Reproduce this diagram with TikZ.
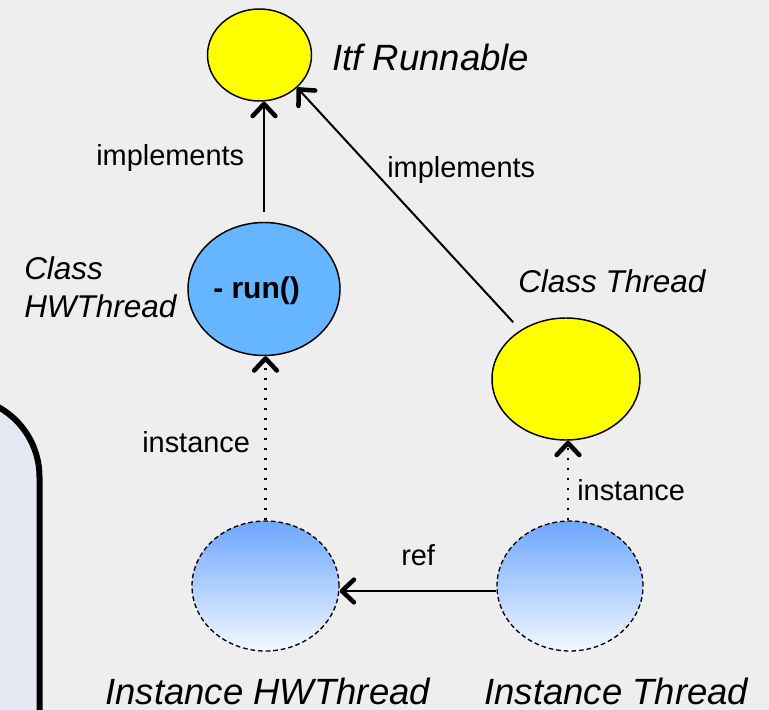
\documentclass[tikz,border=0pt]{standalone}
\usepackage{fontspec}
\setmainfont{Liberation Sans}
\usetikzlibrary{arrows.meta,shapes.geometric}
\definecolor{bg}{RGB}{238,238,238}
\definecolor{boxfill}{RGB}{228,232,242}
\definecolor{classblue}{RGB}{102,181,255}
\definecolor{pureyellow}{RGB}{255,255,0}
\definecolor{gradtop}{RGB}{108,166,255}
\definecolor{gradbot}{RGB}{244,248,255}
\begin{document}
\begin{tikzpicture}[x=0.75pt,y=-0.75pt,
  yel/.style={ellipse, draw=black, line width=1.1pt, fill=pureyellow, inner sep=0pt},
  blu/.style={ellipse, draw=black, line width=1.1pt, fill=classblue, inner sep=0pt},
  inst/.style={ellipse, draw=black, line width=1pt, dash pattern=on 3.5pt off 2.2pt, top color=gradtop, bottom color=gradbot, inner sep=0pt},
  bigital/.style={inner sep=0pt, anchor=base west, font=\fontsize{27.4pt}{32pt}\selectfont\itshape},
  midital/.style={inner sep=0pt, anchor=base west, font=\fontsize{23.6pt}{28pt}\selectfont\itshape},
  lbl/.style={inner sep=0pt, anchor=base west, font=\fontsize{21.7pt}{26pt}\selectfont},
  barbtip/.style={-{Straight Barb[length=9pt, width=17pt, line width=3.4pt, round]}},
  conn/.style={line width=1.5pt, barbtip},
  dotline/.style={line width=1.6pt, dash pattern=on 1.6pt off 5.9pt, barbtip}
]
\useasboundingbox (0,0) rectangle (769,710);
\fill[bg] (0,0) rectangle (769,710);
\begin{scope}
  \clip (0,0) rectangle (769,710);
  \draw[line width=4.5pt, fill=boxfill, rounded corners=60pt] (-200,397) rectangle (39.5,900);
\end{scope}

% ellipses
\node[yel, minimum width=78pt, minimum height=69pt] (itf) at (259.5,55) {};
\node[blu, minimum width=114pt, minimum height=99.75pt] (hw) at (264,289) {};
\node[yel, minimum width=111pt, minimum height=91.5pt] (ct) at (566,379) {};
\node[inst, minimum width=110.25pt, minimum height=97.5pt] (ihw) at (265.5,586) {};
\node[inst, minimum width=109.5pt, minimum height=97.5pt] (it) at (570,586) {};

% labels
\node[bigital] (litf) at (332,71) {Itf Runnable};
\node[midital] (lhw1) at (24,279) {Class};
\node[midital] (lhw2) at (24,317) {HWThread};
\node[midital] (lct) at (518,292) {Class Thread};
\node[bigital] (lihw) at (105,704) {Instance HWThread};
\node[bigital] (lit) at (484,704) {Instance Thread};
\node[inner sep=0pt, anchor=base west, font=\fontsize{22.5pt}{26pt}\selectfont\bfseries] (run) at (213,299) {- run()};
\node[lbl] (imp1) at (96,166) {implements};
\node[lbl] (imp2) at (387,178) {implements};
\node[lbl] (ins1) at (142,452) {instance};
\node[lbl] (ins2) at (577,500) {instance};
\node[lbl] (ref) at (401,565) {ref};

% connectors
\draw[conn, shorten <=7.5pt] (hw.north) -- (hw.north |- itf.south);
\draw[conn, shorten <=8pt] (ct.133) -- (itf.-41);
\draw[dotline] (ihw.north) -- (ihw.north |- hw.south);
\draw[dotline] ([xshift=-1.5pt]it.north) -- ([xshift=-1.5pt]it.north |- ct.south);
\draw[conn] ([yshift=-3.75pt]it.west) -- ([yshift=-3.75pt]ihw.east);
\end{tikzpicture}
\end{document}
